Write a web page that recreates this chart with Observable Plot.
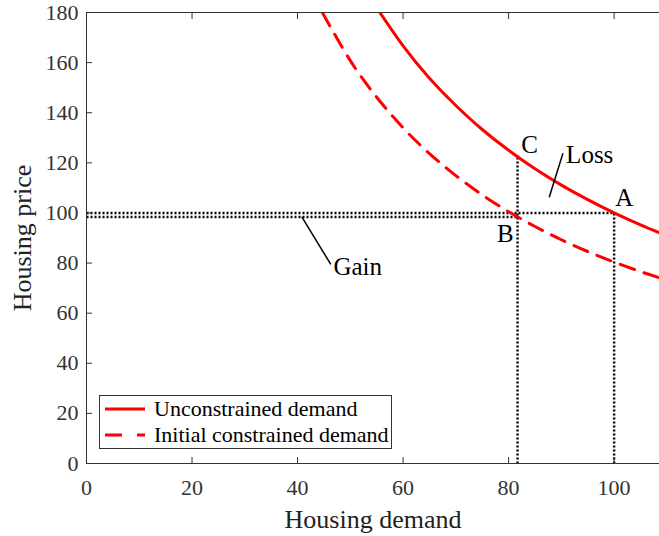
<!DOCTYPE html>
<html><head><meta charset="utf-8">
<script src="https://cdn.jsdelivr.net/npm/d3@7"></script>
<script src="https://cdn.jsdelivr.net/npm/@observablehq/plot@0.6"></script>
<style>
body{margin:0;background:#fff}
#wrap{position:relative;width:659px;height:536px;font-family:"Liberation Serif","Times New Roman",serif}
#wrap svg text{font-family:"Liberation Serif","Times New Roman",serif;font-variant:normal}
#legend{position:absolute;left:99px;top:395px}
</style>
</head><body><div id="wrap"></div>
<script>
// Series names (legend)
const seriesNames = ["Unconstrained demand", "Initial constrained demand"];
const seriesColor = "#ff0000";

// Unconstrained demand curve
const unconstrainedQ = [55.6, 60, 65, 70, 75, 80, 85, 90, 95, 100, 105, 109];
const unconstrainedP = [180, 166.7, 153.8, 142.9, 133.3, 125, 117.6, 111.1, 105.3, 100, 95.2, 91.7];

// Initial constrained demand curve
const constrainedQ = [44.7, 50, 55, 60, 65, 70, 75, 80, 85, 90, 95, 100, 105, 109];
const constrainedP = [180, 160.8, 146.2, 134, 123.7, 114.9, 107.2, 100.5, 94.6, 89.3, 84.6, 80.4, 76.6, 73.8];

// Axis ticks
const xTicks = [0, 20, 40, 60, 80, 100];
const yTicks = [0, 20, 40, 60, 80, 100, 120, 140, 160, 180];

// Key points
const pointNames = ["A", "B", "C"];
const pointQ = [100, 81.7, 81.7];
const pointP = [100, 98.4, 123];

// Annotation labels
const labelText = ["A", "B", "C", "Loss", "Gain"];
const labelQ = [100.2, 77.8, 82.4, 90.9, 46.8];
const labelP = [102.7, 88.4, 123.8, 120, 75.1];

// Leader lines for Loss and Gain
const leaderQ1 = [87.7, 40.8];
const leaderP1 = [106.3, 98.4];
const leaderQ2 = [90.3, 46.3];
const leaderP2 = [123.8, 79.5];

const solid = unconstrainedQ.map((q, i) => ({q, p: unconstrainedP[i]}));
const dashed = constrainedQ.map((q, i) => ({q, p: constrainedP[i]}));
const A = {q: pointQ[0], p: pointP[0]};
const B = {q: pointQ[1], p: pointP[1]};
const C = {q: pointQ[2], p: pointP[2]};
const guides = [
  {x1: 0, y1: A.p, x2: A.q, y2: A.p},
  {x1: 0, y1: B.p, x2: B.q, y2: B.p},
  {x1: C.q, y1: 0, x2: C.q, y2: C.p},
  {x1: A.q, y1: 0, x2: A.q, y2: A.p}
];
const labels = labelText.map((t, i) => ({t, q: labelQ[i], p: labelP[i]}));
const leaders = leaderQ1.map((q, i) => ({x1: q, y1: leaderP1[i], x2: leaderQ2[i], y2: leaderP2[i]}));

const serif = "Liberation Serif";
const axisColor = "#333";
const plot = Plot.plot({
  width: 659, height: 536,
  marginLeft: 86, marginRight: 0, marginTop: 12, marginBottom: 73,
  x: {domain: [0, 108.6]},
  y: {domain: [0, 180]},
  style: {fontFamily: serif, fontSize: "22px", color: axisColor, background: "white"},
  marks: [
    Plot.link(guides, {x1: "x1", y1: "y1", x2: "x2", y2: "y2", stroke: "black", strokeWidth: 2.4, strokeDasharray: "2,2"}),
    Plot.line(dashed, {x: "q", y: "p", stroke: seriesColor, strokeWidth: 3, strokeDasharray: "15,10", curve: "natural", clip: true}),
    Plot.line(solid, {x: "q", y: "p", stroke: seriesColor, strokeWidth: 3, curve: "natural", clip: true}),
    Plot.link(leaders, {x1: "x1", y1: "y1", x2: "x2", y2: "y2", stroke: "black", strokeWidth: 1.5}),
    Plot.text(labels, {x: "q", y: "p", text: "t", textAnchor: "start", lineAnchor: "bottom", fontSize: 25, fontFamily: serif, fill: "black"}),
    Plot.ruleX([0], {stroke: axisColor}),
    Plot.ruleY([0, 180], {stroke: axisColor}),
    Plot.axisX(xTicks, {anchor: "bottom", tickSize: -6, tickPadding: 22, fontSize: 22, fontFamily: serif, label: null}),
    Plot.axisX(xTicks, {anchor: "top", tickSize: -6, tickFormat: () => "", label: null}),
    Plot.axisY(yTicks, {anchor: "left", tickSize: -6, tickPadding: 14, fontSize: 22, fontFamily: serif, label: null}),
    Plot.text(["Housing demand"], {frameAnchor: "bottom", dy: 64, textAnchor: "middle", lineAnchor: "bottom", fontSize: 26, fontFamily: serif, fill: "#222"}),
    Plot.text(["Housing price"], {frameAnchor: "left", dx: -64, rotate: -90, textAnchor: "middle", lineAnchor: "middle", fontSize: 26, fontFamily: serif, fill: "#222"})
  ]
});
const wrap = document.getElementById("wrap");
wrap.appendChild(plot);

// Legend
const ns = "http://www.w3.org/2000/svg";
const lg = document.createElementNS(ns, "svg");
lg.setAttribute("id", "legend");
lg.setAttribute("width", 294);
lg.setAttribute("height", 55);
const box = document.createElementNS(ns, "rect");
box.setAttribute("x", 0.5); box.setAttribute("y", 0.5);
box.setAttribute("width", 292); box.setAttribute("height", 53);
box.setAttribute("fill", "white"); box.setAttribute("stroke", axisColor);
lg.appendChild(box);
seriesNames.forEach((name, i) => {
  const cy = 14 + i * 26;
  const ln = document.createElementNS(ns, "line");
  ln.setAttribute("x1", 6); ln.setAttribute("x2", 46);
  ln.setAttribute("y1", cy); ln.setAttribute("y2", cy);
  ln.setAttribute("stroke", seriesColor); ln.setAttribute("stroke-width", 3);
  if (i === 1) ln.setAttribute("stroke-dasharray", "17,15");
  lg.appendChild(ln);
  const tx = document.createElementNS(ns, "text");
  tx.setAttribute("x", 55); tx.setAttribute("y", cy + 7);
  tx.setAttribute("font-size", 22);
  tx.setAttribute("font-family", serif);
  tx.textContent = name;
  lg.appendChild(tx);
});
wrap.appendChild(lg);
</script>
</body></html>
